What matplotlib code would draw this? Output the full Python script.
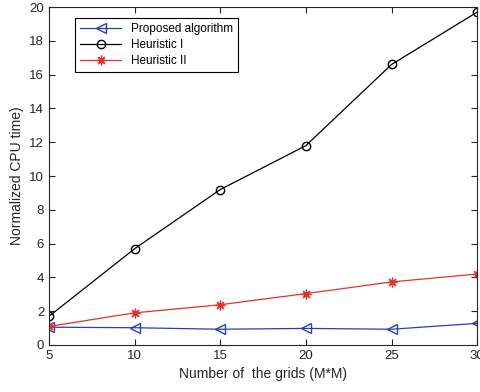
import matplotlib
matplotlib.use("Agg")
import matplotlib.pyplot as plt

plt.rcParams["font.family"] = ["Liberation Sans", "DejaVu Sans"]

grids = [5, 10, 15, 20, 25, 30]
proposed = [1.05, 1.02, 0.93, 0.98, 0.93, 1.28]
heuristic_1 = [1.7, 5.7, 9.2, 11.8, 16.6, 19.7]
heuristic_2 = [1.1, 1.9, 2.38, 3.04, 3.73, 4.2]

fig = plt.figure(figsize=(4.81, 3.92), dpi=100)
ax = fig.add_axes([0.102, 0.12, 0.89, 0.862])

ax.plot(grids, proposed, color="#2b3fb0", marker="<", markersize=6.5,
        markerfacecolor="none", linewidth=0.9, label="Proposed algorithm")
ax.plot(grids, heuristic_1, color="black", marker="o", markersize=6,
        markerfacecolor="none", linewidth=0.9, label="Heuristic I")
ax.plot(grids, heuristic_2, color="#e8302a", marker=(8, 2, 0), markersize=7,
        markeredgewidth=0.9, linewidth=0.9, label="Heuristic II")

ax.set_xlim(5, 30)
ax.set_ylim(0, 20)
ax.set_xticks(grids)
ax.set_yticks(range(0, 21, 2))
ax.tick_params(direction="in", labelsize=9.5, top=True, right=True, length=4,
               colors="#262626")
ax.set_xlabel("Number of  the grids (M*M)", fontsize=10, color="#262626")
ax.set_ylabel("Normalized CPU time)", fontsize=10, color="#262626")
for s in ax.spines.values():
    s.set_linewidth(0.8)
    s.set_color("#262626")

leg = ax.legend(loc="upper left", bbox_to_anchor=(0.061, 0.967), borderaxespad=0,
                fontsize=8.5, fancybox=False, edgecolor="black", framealpha=1,
                handlelength=3.5, borderpad=0.4, labelspacing=0.35)
leg.get_frame().set_linewidth(0.8)

fig.savefig("out.png", dpi=100)
